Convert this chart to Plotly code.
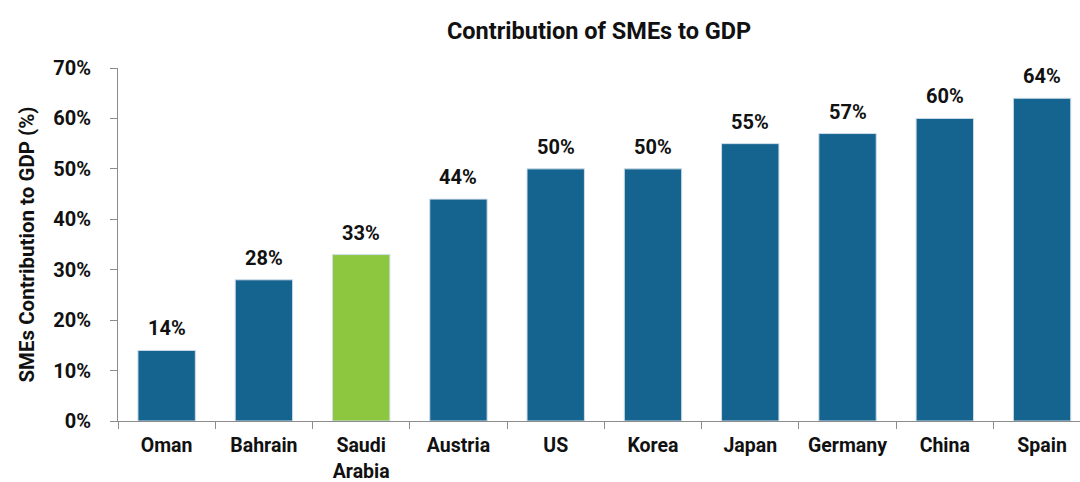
import plotly.graph_objects as go

countries = ["Oman", "Bahrain", "Saudi<br>Arabia", "Austria", "US", "Korea", "Japan", "Germany", "China", "Spain"]
sme_share = [14, 28, 33, 44, 50, 50, 55, 57, 60, 64]
bar_colors = ["#15638F", "#15638F", "#8DC63F", "#15638F", "#15638F", "#15638F", "#15638F", "#15638F", "#15638F", "#15638F"]
y_ticks = [0, 10, 20, 30, 40, 50, 60, 70]

FONT = "Roboto, Liberation Sans, sans-serif"
INK = "#111111"

fig = go.Figure()
fig.add_trace(go.Bar(
    x=countries,
    y=sme_share,
    marker=dict(color=bar_colors, line=dict(color="#CFDDE8", width=1)),
    width=0.59,
    hoverinfo="skip",
))

for c, v in zip(countries, sme_share):
    fig.add_annotation(x=c, y=v, text=f"<b>{v}%</b>", showarrow=False,
                       yanchor="bottom", yshift=8,
                       font=dict(family=FONT, size=20, color=INK))

fig.update_layout(
    width=1080, height=482,
    margin=dict(l=118, r=0, t=68, b=61),
    paper_bgcolor="white", plot_bgcolor="white",
    showlegend=False,
    font=dict(family=FONT, color=INK),
    title=dict(text="<b>Contribution of SMEs to GDP</b>", x=0.5547, xanchor="center",
               y=1 - 31 / 482, yanchor="middle",
               font=dict(family=FONT, size=23.5, color=INK)),
)
fig.update_xaxes(
    range=[-0.5, 9.39],
    tickvals=countries, ticktext=[f"<b>{c}</b>" for c in countries],
    tickangle=0, automargin=False,
    showline=True, linecolor="#8C8C8C", linewidth=1,
    ticks="outside", tickson="boundaries", ticklen=7, tickcolor="#8C8C8C",
    tickfont=dict(family=FONT, size=19.5, color=INK),
    ticklabelstandoff=7,
    showgrid=False, zeroline=False,
)
fig.update_yaxes(
    range=[0, 70], tickvals=y_ticks, ticktext=[f"<b>{v}%</b>" for v in y_ticks],
    automargin=False,
    showline=True, linecolor="#8C8C8C", linewidth=1,
    ticks="outside", ticklen=7, tickcolor="#8C8C8C",
    tickfont=dict(family=FONT, size=20, color=INK),
    ticklabelstandoff=15,
    title=dict(text="<b>SMEs Contribution to GDP (%)</b>", standoff=13,
               font=dict(family=FONT, size=20.5, color=INK)),
    showgrid=False, zeroline=False,
)

fig.write_html("out.html")
